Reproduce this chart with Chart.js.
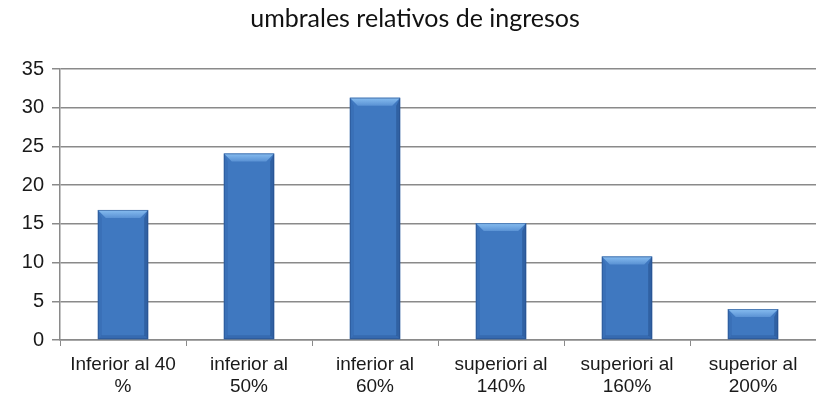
<!DOCTYPE html>
<html>
<head>
<meta charset="utf-8">
<script src="https://cdn.jsdelivr.net/npm/chart.js@4"></script>
<style>
  html, body { margin: 0; padding: 0; background: #fff; }
  #wrap { width: 816px; height: 398px; }
</style>
</head>
<body>
<div id="wrap"><canvas id="c" width="816" height="398"></canvas></div>
<script>
// Categories, values and tick labels
const categories = [
  ['Inferior al 40', '%'],
  ['inferior al', '50%'],
  ['inferior al', '60%'],
  ['superiori al', '140%'],
  ['superiori al', '160%'],
  ['superior al', '200%']
];
const values = [16.8, 24.1, 31.3, 15.1, 10.8, 4.0];
const yTicks = [0, 5, 10, 15, 20, 25, 30, 35];
const chartTitle = 'umbrales relativos de ingresos';

// Horizontal gradient for the bar body
function barFill(ctx) {
  const el = ctx.element;
  const c = ctx.chart.ctx;
  if (!el || el.x === undefined || !isFinite(el.width)) return '#3f78c0';
  const l = el.x - el.width / 2, r = el.x + el.width / 2;
  const g = c.createLinearGradient(l, 0, r, 0);
  g.addColorStop(0, '#3c72b8');
  g.addColorStop(0.2, '#457ec6');
  g.addColorStop(0.6, '#3f78c0');
  g.addColorStop(0.9, '#3a70b6');
  g.addColorStop(1, '#2c5c9c');
  return g;
}

// Bevelled edges drawn over each bar, from the bar element's own geometry
const bevel = {
  id: 'bevel',
  afterDatasetsDraw(chart) {
    const c = chart.ctx;
    const meta = chart.getDatasetMeta(0);
    const b = 8;
    meta.data.forEach(el => {
      const l = el.x - el.width / 2, r = el.x + el.width / 2;
      const t = el.y, bt = el.base;
      const s = 4;
      c.save();
      // top face
      let g = c.createLinearGradient(0, t, 0, t + b);
      g.addColorStop(0, '#88bef1');
      g.addColorStop(1, '#5a92d4');
      c.fillStyle = g;
      c.beginPath();
      c.moveTo(l, t); c.lineTo(r, t); c.lineTo(r - b, t + b); c.lineTo(l + b, t + b);
      c.closePath(); c.fill();
      // left face
      c.fillStyle = 'rgba(30,70,135,0.15)';
      c.beginPath();
      c.moveTo(l, t); c.lineTo(l + s, t + b); c.lineTo(l + s, bt - s); c.lineTo(l, bt);
      c.closePath(); c.fill();
      // right face
      c.fillStyle = 'rgba(20,55,110,0.35)';
      c.beginPath();
      c.moveTo(r, t); c.lineTo(r - s, t + b); c.lineTo(r - s, bt - s); c.lineTo(r, bt);
      c.closePath(); c.fill();
      // bottom face
      c.fillStyle = 'rgba(25,60,120,0.22)';
      c.beginPath();
      c.moveTo(l, bt); c.lineTo(l + s, bt - s); c.lineTo(r - s, bt - s); c.lineTo(r, bt);
      c.closePath(); c.fill();
      // outline
      c.strokeStyle = 'rgba(35,75,135,0.55)';
      c.lineWidth = 1;
      c.strokeRect(l + 0.5, t + 0.5, el.width - 1, bt - t - 1);
      c.restore();
    });
  }
};

new Chart(document.getElementById('c'), {
  type: 'bar',
  data: {
    labels: categories,
    datasets: [{
      data: values,
      backgroundColor: barFill,
      borderWidth: 0,
      categoryPercentage: 1,
      barPercentage: 0.4
    }]
  },
  options: {
    responsive: false,
    animation: false,
    devicePixelRatio: 1,
    layout: { padding: { left: 14, right: 0, top: 4, bottom: 0 } },
    plugins: {
      legend: { display: false },
      tooltip: { enabled: false },
      title: {
        display: true,
        text: chartTitle,
        color: '#111',
        font: { family: 'Lato', size: 25, weight: 'normal' },
        padding: { top: 0, bottom: 35 }
      }
    },
    scales: {
      x: {
        afterFit(axis) { axis.height = 58; },
        grid: {
          offset: true,
          drawOnChartArea: false,
          drawTicks: true,
          tickLength: 6,
          color: '#8a8a8a'
        },
        border: { display: true, color: '#8a8a8a', width: 1.5 },
        ticks: {
          color: '#1a1a1a',
          font: { family: 'Liberation Sans', size: 19, lineHeight: 1.15 },
          padding: 8,
          maxRotation: 0,
          autoSkip: false
        }
      },
      y: {
        min: 0,
        max: 35,
        afterBuildTicks(axis) { axis.ticks = yTicks.map(v => ({ value: v })); },
        afterFit(axis) { axis.width = 46; },
        grid: {
          color: '#8a8a8a',
          lineWidth: 1.5,
          tickLength: 8
        },
        border: { display: true, color: '#8a8a8a', width: 1.5 },
        ticks: {
          color: '#1a1a1a',
          font: { family: 'Liberation Sans', size: 20 },
          padding: 8
        }
      }
    }
  },
  plugins: [bevel]
});
</script>
</body>
</html>
